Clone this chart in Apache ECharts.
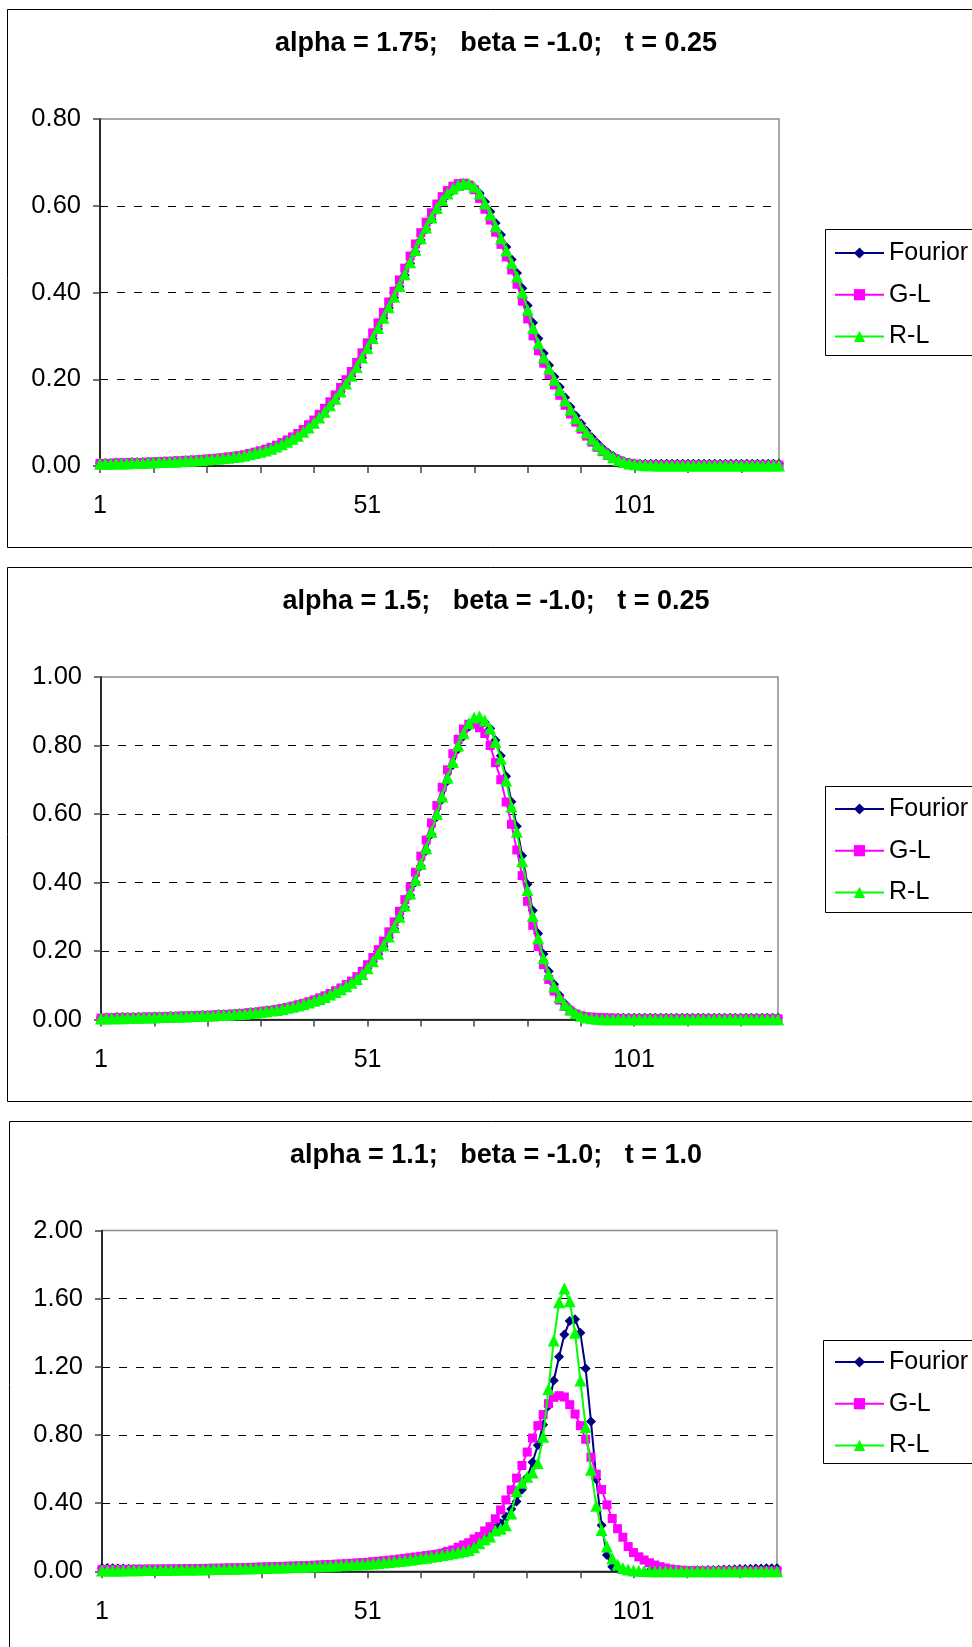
<!DOCTYPE html>
<html><head><meta charset="utf-8">
<script src="https://cdn.jsdelivr.net/npm/echarts@6/dist/echarts.min.js"></script>
<style>html,body{margin:0;padding:0;background:#fff}#c{width:972px;height:1647px}</style>
</head><body><div id="c"></div><script>
// ---------- DATA ----------
const categories = [];
for (let i = 1; i <= 128; i++) categories.push(String(i));
const xTickLabels = ['1', '51', '101'];
const seriesNames = ['Fourior', 'G-L', 'R-L'];
const panelTitles = [
  'alpha = 1.75;   beta = -1.0;   t = 0.25',
  'alpha = 1.5;   beta = -1.0;   t = 0.25',
  'alpha = 1.1;   beta = -1.0;   t = 1.0'
];
const yMax = [0.8, 1.0, 2.0];
const yStep = [0.2, 0.2, 0.4];

// Panel 1: alpha = 1.75
const fourier1 = [0.007,0.007,0.007,0.008,0.008,0.008,0.009,0.009,0.009,0.010,
 0.010,0.010,0.011,0.011,0.012,0.012,0.013,0.014,0.014,0.015,
 0.016,0.017,0.018,0.019,0.020,0.022,0.023,0.025,0.028,0.031,
 0.034,0.037,0.041,0.046,0.051,0.057,0.064,0.071,0.080,0.090,
 0.101,0.113,0.126,0.140,0.155,0.171,0.189,0.207,0.227,0.249,
 0.271,0.293,0.316,0.340,0.364,0.388,0.413,0.440,0.467,0.494,
 0.521,0.546,0.569,0.591,0.609,0.624,0.636,0.644,0.647,0.647,
 0.642,0.629,0.609,0.586,0.560,0.533,0.505,0.476,0.445,0.410,
 0.370,0.330,0.294,0.260,0.232,0.206,0.182,0.158,0.136,0.116,
 0.098,0.081,0.066,0.053,0.041,0.031,0.023,0.016,0.011,0.008,
 0.006,0.005,0.005,0.005,0.005,0.005,0.005,0.005,0.005,0.005,
 0.005,0.005,0.005,0.005,0.005,0.005,0.005,0.005,0.005,0.005,
 0.005,0.005,0.005,0.005,0.005,0.005,0.005,0.005];
const gl1 = [0.006,0.006,0.006,0.007,0.007,0.007,0.008,0.008,0.008,0.009,
 0.009,0.010,0.010,0.011,0.011,0.012,0.013,0.013,0.014,0.015,
 0.016,0.017,0.018,0.019,0.021,0.022,0.024,0.026,0.029,0.032,
 0.035,0.039,0.043,0.048,0.054,0.060,0.067,0.075,0.084,0.095,
 0.106,0.119,0.133,0.148,0.164,0.181,0.199,0.218,0.239,0.261,
 0.284,0.307,0.330,0.354,0.378,0.403,0.429,0.456,0.484,0.512,
 0.538,0.562,0.584,0.604,0.621,0.635,0.645,0.651,0.652,0.648,
 0.637,0.617,0.592,0.567,0.539,0.511,0.482,0.452,0.419,0.380,
 0.339,0.300,0.266,0.237,0.211,0.187,0.163,0.140,0.120,0.101,
 0.085,0.069,0.055,0.043,0.033,0.024,0.017,0.012,0.008,0.006,
 0.004,0.003,0.002,0.002,0.002,0.002,0.002,0.002,0.002,0.002,
 0.002,0.002,0.002,0.002,0.002,0.002,0.002,0.002,0.002,0.002,
 0.002,0.002,0.002,0.002,0.002,0.002,0.002,0.002];
const rl1 = [0.005,0.005,0.005,0.006,0.006,0.006,0.007,0.007,0.007,0.008,
 0.008,0.009,0.009,0.010,0.010,0.011,0.012,0.012,0.013,0.014,
 0.015,0.016,0.017,0.018,0.019,0.021,0.022,0.024,0.027,0.030,
 0.033,0.036,0.040,0.045,0.050,0.056,0.063,0.070,0.079,0.089,
 0.100,0.112,0.125,0.140,0.155,0.172,0.190,0.208,0.228,0.250,
 0.272,0.295,0.318,0.342,0.366,0.390,0.415,0.442,0.470,0.498,
 0.525,0.550,0.573,0.595,0.613,0.628,0.640,0.648,0.652,0.651,
 0.644,0.628,0.605,0.580,0.553,0.525,0.497,0.468,0.437,0.400,
 0.360,0.318,0.283,0.250,0.224,0.199,0.175,0.151,0.130,0.110,
 0.093,0.077,0.062,0.049,0.038,0.028,0.020,0.014,0.009,0.006,
 0.004,0.003,0.002,0.002,0.001,0.001,0.001,0.001,0.001,0.001,
 0.001,0.001,0.001,0.001,0.001,0.001,0.001,0.001,0.001,0.001,
 0.001,0.001,0.001,0.001,0.001,0.001,0.001,0.001];

// Panel 2: alpha = 1.5
const fourier2 = [0.006,0.006,0.006,0.007,0.007,0.007,0.007,0.008,0.008,0.008,
 0.009,0.009,0.009,0.010,0.010,0.011,0.011,0.012,0.012,0.013,
 0.013,0.014,0.015,0.015,0.016,0.017,0.018,0.019,0.021,0.022,
 0.024,0.026,0.028,0.030,0.033,0.036,0.039,0.043,0.047,0.052,
 0.057,0.062,0.068,0.075,0.082,0.090,0.099,0.109,0.120,0.134,
 0.150,0.169,0.190,0.213,0.239,0.266,0.296,0.328,0.363,0.401,
 0.448,0.493,0.541,0.592,0.643,0.696,0.743,0.790,0.827,0.855,
 0.872,0.876,0.868,0.850,0.815,0.770,0.710,0.636,0.564,0.478,
 0.395,0.318,0.251,0.191,0.141,0.103,0.071,0.047,0.031,0.019,
 0.012,0.008,0.006,0.005,0.005,0.005,0.005,0.005,0.005,0.005,
 0.005,0.005,0.005,0.005,0.005,0.005,0.005,0.005,0.005,0.005,
 0.005,0.005,0.005,0.005,0.005,0.005,0.005,0.005,0.005,0.005,
 0.005,0.005,0.005,0.005,0.005,0.005,0.005,0.005];
const gl2 = [0.004,0.004,0.005,0.005,0.005,0.006,0.006,0.006,0.007,0.007,
 0.007,0.008,0.008,0.009,0.009,0.010,0.010,0.011,0.011,0.012,
 0.012,0.013,0.014,0.014,0.015,0.016,0.017,0.018,0.020,0.021,
 0.023,0.025,0.027,0.029,0.032,0.035,0.039,0.043,0.047,0.052,
 0.057,0.063,0.069,0.076,0.084,0.092,0.102,0.112,0.125,0.141,
 0.160,0.181,0.204,0.229,0.256,0.285,0.316,0.350,0.387,0.430,
 0.477,0.524,0.574,0.625,0.678,0.729,0.776,0.818,0.848,0.862,
 0.862,0.852,0.835,0.800,0.750,0.700,0.635,0.570,0.495,0.420,
 0.345,0.275,0.213,0.160,0.117,0.083,0.057,0.038,0.025,0.016,
 0.011,0.008,0.007,0.006,0.005,0.004,0.004,0.003,0.003,0.002,
 0.002,0.002,0.002,0.002,0.002,0.002,0.002,0.002,0.002,0.002,
 0.002,0.002,0.002,0.002,0.002,0.002,0.002,0.002,0.002,0.002,
 0.002,0.002,0.002,0.002,0.002,0.002,0.002,0.002];
const rl2 = [0.003,0.003,0.004,0.004,0.004,0.005,0.005,0.005,0.006,0.006,
 0.006,0.007,0.007,0.008,0.008,0.009,0.009,0.010,0.010,0.011,
 0.011,0.012,0.013,0.013,0.014,0.015,0.016,0.017,0.019,0.020,
 0.022,0.024,0.026,0.028,0.031,0.034,0.037,0.041,0.045,0.050,
 0.055,0.060,0.066,0.073,0.080,0.088,0.097,0.107,0.118,0.133,
 0.150,0.170,0.192,0.216,0.242,0.270,0.300,0.333,0.368,0.407,
 0.455,0.500,0.548,0.600,0.651,0.706,0.752,0.800,0.836,0.865,
 0.882,0.885,0.873,0.850,0.810,0.761,0.698,0.622,0.548,0.462,
 0.378,0.302,0.237,0.179,0.132,0.096,0.066,0.044,0.029,0.018,
 0.011,0.006,0.004,0.002,0.001,0.001,0.001,0.001,0.001,0.001,
 0.001,0.001,0.001,0.001,0.001,0.001,0.001,0.001,0.001,0.001,
 0.001,0.001,0.001,0.001,0.001,0.001,0.001,0.001,0.001,0.001,
 0.001,0.001,0.001,0.001,0.001,0.001,0.001,0.001];

// Panel 3: alpha = 1.1
const fourier3 = [0.020,0.019,0.018,0.017,0.016,0.015,0.014,0.013,0.013,0.012,
 0.012,0.012,0.012,0.012,0.012,0.012,0.012,0.013,0.013,0.013,
 0.013,0.013,0.014,0.014,0.014,0.015,0.015,0.016,0.016,0.017,
 0.018,0.019,0.020,0.021,0.022,0.023,0.024,0.025,0.026,0.027,
 0.028,0.029,0.030,0.031,0.032,0.034,0.035,0.037,0.039,0.041,
 0.043,0.045,0.048,0.051,0.054,0.058,0.062,0.066,0.071,0.077,
 0.083,0.088,0.094,0.100,0.107,0.114,0.122,0.131,0.141,0.152,
 0.164,0.178,0.195,0.222,0.252,0.282,0.320,0.365,0.410,0.478,
 0.550,0.640,0.740,0.860,0.970,1.120,1.260,1.390,1.470,1.480,
 1.400,1.190,0.880,0.540,0.270,0.096,0.027,-0.004,-0.012,-0.010,
 -0.007,-0.004,-0.002,0.000,0.001,0.002,0.003,0.003,0.004,0.004,
 0.005,0.005,0.006,0.006,0.007,0.008,0.009,0.010,0.011,0.012,
 0.013,0.014,0.015,0.016,0.017,0.018,0.018,0.018];
const gl3 = [0.010,0.010,0.010,0.011,0.011,0.011,0.012,0.012,0.012,0.013,
 0.013,0.013,0.014,0.014,0.014,0.015,0.015,0.016,0.016,0.017,
 0.017,0.018,0.018,0.019,0.020,0.020,0.021,0.022,0.023,0.024,
 0.025,0.026,0.027,0.028,0.029,0.030,0.031,0.032,0.033,0.034,
 0.036,0.037,0.039,0.040,0.042,0.043,0.045,0.047,0.049,0.051,
 0.053,0.056,0.059,0.062,0.065,0.068,0.072,0.076,0.080,0.084,
 0.088,0.092,0.096,0.100,0.106,0.117,0.125,0.141,0.155,0.168,
 0.190,0.204,0.237,0.262,0.308,0.360,0.419,0.478,0.547,0.621,
 0.700,0.782,0.855,0.920,0.984,1.021,1.031,1.023,0.978,0.923,
 0.855,0.775,0.670,0.570,0.480,0.390,0.310,0.250,0.200,0.145,
 0.110,0.085,0.066,0.050,0.037,0.027,0.019,0.013,0.009,0.006,
 0.004,0.003,0.002,0.002,0.001,0.001,0.001,0.001,0.001,0.001,
 0.001,0.001,0.001,0.001,0.001,0.001,0.001,0.001];
const rl3 = [0.004,0.004,0.005,0.005,0.005,0.006,0.006,0.006,0.007,0.007,
 0.008,0.008,0.008,0.009,0.009,0.010,0.010,0.011,0.011,0.012,
 0.012,0.013,0.013,0.014,0.015,0.015,0.016,0.017,0.018,0.018,
 0.019,0.020,0.021,0.022,0.023,0.024,0.025,0.026,0.027,0.028,
 0.029,0.030,0.031,0.032,0.034,0.035,0.037,0.038,0.040,0.042,
 0.044,0.046,0.048,0.051,0.054,0.057,0.060,0.064,0.068,0.072,
 0.076,0.080,0.085,0.090,0.095,0.100,0.106,0.112,0.118,0.125,
 0.141,0.165,0.188,0.205,0.240,0.250,0.270,0.340,0.470,0.520,
 0.555,0.580,0.635,0.790,1.070,1.355,1.580,1.660,1.585,1.400,
 1.120,0.847,0.596,0.385,0.243,0.145,0.075,0.040,0.020,0.010,
 0.005,0.003,0.002,0.001,0.001,0.001,0.001,0.001,0.001,0.001,
 0.001,0.001,0.001,0.001,0.001,0.001,0.001,0.001,0.001,0.001,
 0.001,0.001,0.001,0.001,0.001,0.001,0.001,0.001];

const panelData = [[fourier1, gl1, rl1], [fourier2, gl2, rl2], [fourier3, gl3, rl3]];

// ---------- LAYOUT / STYLE ----------
const FONT = '"Liberation Sans", Arial, sans-serif';
const grids = [
  {left: 100, top: 119, width: 679, height: 347},
  {left: 101, top: 677, width: 677, height: 342.5},
  {left: 102, top: 1230.6, width: 675, height: 340.7}
];
const frames = [
  {x: 7.5, y: 9.5, h: 538},
  {x: 7.5, y: 567.5, h: 534},
  {x: 9.5, y: 1121.5, h: 600}
];
const titleY = [44, 602, 1156];
const titleX = 496;
const legendBox = [
  {x: 825.5, y: 229.5, h: 126},
  {x: 825.5, y: 786.5, h: 126},
  {x: 823.5, y: 1340.5, h: 123}
];
const legendFirstRow = [253, 809, 1362];
const colors = ['#000080', '#FF00FF', '#00FF00'];
const symbols = ['diamond', 'rect', 'triangle'];
const symbolSizes = [10, 9, 12];

const option = {
  animation: false,
  backgroundColor: '#fff',
  title: [], grid: [], xAxis: [], yAxis: [], series: [], legend: [], graphic: []
};

for (let p = 0; p < 3; p++) {
  option.graphic.push({type: 'rect', silent: true, z: 0,
    shape: {x: frames[p].x, y: frames[p].y, width: 1000, height: frames[p].h},
    style: {fill: 'none', stroke: '#000', lineWidth: 1}});
  option.graphic.push({type: 'rect', silent: true, z: 0,
    shape: {x: legendBox[p].x, y: legendBox[p].y, width: 200, height: legendBox[p].h},
    style: {fill: '#fff', stroke: '#000', lineWidth: 1}});
  option.title.push({text: panelTitles[p], left: titleX, top: titleY[p] - 14, textAlign: 'center', padding: 0,
    textStyle: {fontFamily: FONT, fontSize: 27, fontWeight: 'bold', color: '#000', lineHeight: 28}});
  option.grid.push(Object.assign({show: true, borderColor: '#8c8c8c', borderWidth: 1.5, backgroundColor: 'transparent'}, grids[p]));
  option.xAxis.push({type: 'category', gridIndex: p, data: categories, boundaryGap: false,
    axisLine: {show: true, onZero: false, lineStyle: {color: '#000', width: 1.5}},
    axisTick: {show: true, interval: 9, length: 7, lineStyle: {color: '#444', width: 1.5}},
    axisLabel: {interval: 49, margin: 28, fontSize: 25, color: '#000', fontFamily: FONT,
      formatter: v => (xTickLabels.indexOf(v) >= 0 ? v : '')},
    splitLine: {show: false}});
  option.yAxis.push({type: 'value', gridIndex: p, min: 0, max: yMax[p], interval: yStep[p],
    axisLine: {show: true, lineStyle: {color: '#000', width: 1.5}},
    axisTick: {show: true, length: 7, lineStyle: {color: '#444', width: 1.5}},
    axisLabel: {margin: 19, fontSize: 25.5, color: '#000', fontFamily: FONT, formatter: v => v.toFixed(2)},
    splitLine: {show: true, showMinLine: false, showMaxLine: false, lineStyle: {color: '#000', width: 1, type: [8, 9]}}});
  for (let s = 0; s < 3; s++) {
    option.series.push({type: 'line', name: seriesNames[s], xAxisIndex: p, yAxisIndex: p,
      data: panelData[p][s], symbol: symbols[s], symbolSize: symbolSizes[s], showAllSymbol: true,
      itemStyle: {color: colors[s]}, lineStyle: {color: colors[s], width: 2}, z: 3 + s});
  }
  option.legend.push({orient: 'vertical', left: 834, top: legendFirstRow[p] - 12.5, padding: 0,
    itemWidth: 49, itemHeight: 14, itemGap: 16.7, selectedMode: false, z: 10,
    data: seriesNames, textStyle: {fontFamily: FONT, fontSize: 25, color: '#000', lineHeight: 25}});
}

const chart = echarts.init(document.getElementById('c'), null, {renderer: 'canvas'});
chart.setOption(option);
</script></body></html>
